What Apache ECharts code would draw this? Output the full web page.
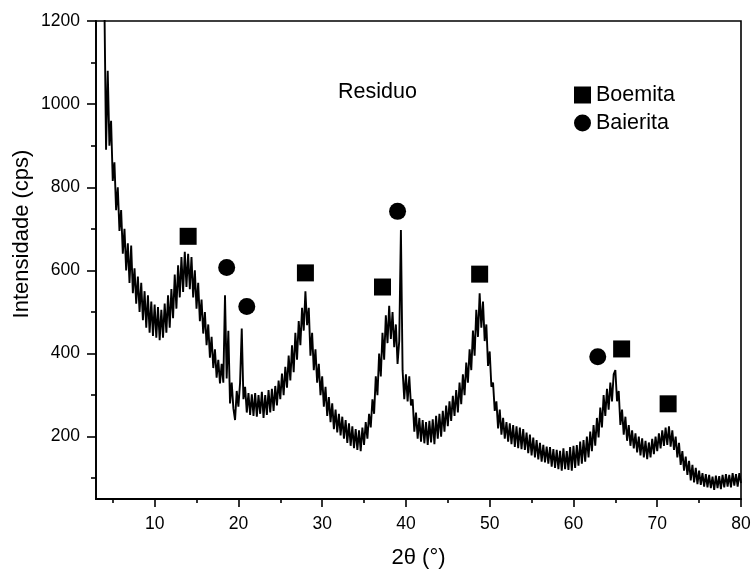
<!DOCTYPE html>
<html>
<head>
<meta charset="utf-8">
<script src="https://cdn.jsdelivr.net/npm/echarts/dist/echarts.min.js"></script>
<style>
  html, body { margin: 0; padding: 0; background: #fff; }
  #chart { width: 752px; height: 571px; }
</style>
</head>
<body>
<div id="chart"></div>
<script>
// XRD pattern "Residuo": intensity every 0.2 deg, from 4.0 to 80.0
const START = 4.0;
const STEP = 0.2;
const intensity = [
  // 4.0 - 5.8
  1250, 890, 1080, 900, 960, 815, 860, 745, 800, 695,
  // 6.0
  745, 640, 700, 600, 665, 570, 660, 545, 605, 520,
  // 8.0
  585, 500, 570, 480, 550, 462, 540, 450, 525, 442,
  // 10.0
  518, 438, 512, 432, 505, 438, 520, 450, 540, 462,
  // 12.0
  555, 485, 590, 508, 612, 535, 632, 548, 645, 560,
  // 14.0
  640, 555, 632, 535, 600, 508, 570, 478, 530, 448,
  // 16.0
  500, 420, 470, 390, 440, 365, 410, 342, 385, 328,
  // 18.0
  375, 330, 540, 340, 455, 280, 330, 268, 240, 310,
  // 20.0
  272, 330, 460, 290, 320, 258, 305, 252, 302, 250,
  // 22.0
  305, 248, 300, 255, 308, 245, 300, 252, 312, 258,
  // 24.0
  315, 262, 322, 275, 335, 290, 352, 300, 368, 318,
  // 26.0
  395, 335, 420, 355, 450, 385, 478, 420, 510, 455,
  // 28.0
  550, 468, 510, 395, 450, 360, 410, 330, 375, 300,
  // 30.0
  345, 272, 320, 250, 295, 235, 280, 218, 265, 210,
  // 32.0
  255, 203, 248, 195, 240, 185, 232, 178, 225, 172,
  // 34.0
  218, 168, 215, 165, 222, 180, 235, 195, 255, 222,
  // 36.0
  290, 255, 345, 300, 400, 345, 450, 385, 492, 425,
  // 38.0
  515, 435, 500, 415, 470, 375, 430, 697, 360, 290,
  // 40.0
  350, 285, 345, 275, 290, 212, 258, 195, 245, 188,
  // 42.0
  240, 184, 235, 180, 238, 186, 242, 182, 250, 195,
  // 44.0
  255, 200, 262, 212, 275, 225, 285, 238, 298, 250,
  // 46.0
  312, 258, 330, 278, 350, 300, 378, 330, 410, 360,
  // 48.0
  455, 395, 505, 440, 545, 462, 525, 430, 470, 370,
  // 50.0
  405, 320, 330, 262, 285, 220, 265, 205, 245, 195,
  // 52.0
  235, 188, 232, 182, 228, 175, 225, 172, 222, 170,
  // 54.0
  218, 168, 210, 160, 205, 155, 198, 150, 192, 145,
  // 56.0
  185, 140, 180, 138, 176, 135, 175, 128, 170, 125,
  // 58.0
  168, 122, 166, 118, 172, 122, 165, 120, 175, 118,
  // 60.0
  178, 125, 180, 130, 188, 135, 192, 140, 200, 150,
  // 62.0
  212, 165, 228, 178, 245, 198, 270, 222, 300, 250,
  // 64.0
  315, 265, 330, 285, 350, 360, 285, 310, 228, 265,
  // 66.0
  205, 248, 190, 228, 178, 215, 172, 208, 162, 200,
  // 68.0
  155, 196, 150, 190, 146, 186, 150, 195, 158, 200,
  // 70.0
  165, 208, 172, 215, 178, 222, 180, 225, 176, 215,
  // 72.0
  168, 200, 150, 185, 132, 165, 118, 152, 108, 142,
  // 74.0
  95, 132, 90, 125, 86, 118, 84, 112, 80, 110,
  // 76.0
  78, 108, 76, 104, 72, 106, 76, 105, 74, 108,
  // 78.0
  78, 110, 80, 108, 78, 112, 82, 110, 80, 112,
  // 80.0
  88
];

// phase markers (label positions in data units)
const boemitaX = [14.0, 28.0, 37.2, 48.8, 65.75, 71.3];
const boemitaY = [682, 594, 560, 591, 411, 279];
const baieritaX = [18.6, 21.0, 39.0, 62.9];
const baieritaY = [607, 513, 742, 392];

// axis ticks
const xLabels = [10, 20, 30, 40, 50, 60, 70, 80];
const xMinor = [5, 15, 25, 35, 45, 55, 65, 75];
const yLabels = [200, 400, 600, 800, 1000, 1200];
const yMinor = [100, 300, 500, 700, 900, 1100];

const FONT = 'Liberation Sans, Arial, Helvetica, sans-serif';

const trace = intensity.map((v, i) => [+(START + i * STEP).toFixed(1), v]);
const pairs = (xs, ys) => xs.map((x, i) => [x, ys[i]]);

const chart = echarts.init(document.getElementById('chart'), null, { renderer: 'canvas' });

const baseX = {
  type: 'value', min: 3, max: 80, gridIndex: 0, position: 'bottom',
  splitLine: { show: false }
};
const baseY = {
  type: 'value', min: 50, max: 1200, gridIndex: 0, position: 'left',
  splitLine: { show: false }
};

chart.setOption({
  animation: false,
  backgroundColor: '#fff',
  grid: {
    left: 96, right: 11, top: 21, bottom: 72,
    containLabel: false, outerBoundsMode: 'none',
    show: true, borderColor: '#000', borderWidth: 1.6, backgroundColor: 'transparent'
  },
  legend: {
    orient: 'vertical', left: 574, top: 84, padding: 0,
    itemWidth: 17, itemHeight: 17, itemGap: 6,
    selectedMode: false,
    data: ['Boemita', 'Baierita'],
    itemStyle: { opacity: 1 },
    textStyle: { color: '#000', fontSize: 21.5, fontFamily: FONT, lineHeight: 22 }
  },
  xAxis: [
    Object.assign({}, baseX, {
      name: '2θ (°)', nameLocation: 'middle', nameGap: 48,
      nameTextStyle: { color: '#000', fontSize: 22, fontFamily: FONT },
      axisLine: { show: true, lineStyle: { color: '#000', width: 1.8 } },
      axisTick: { show: true, inside: false, length: 8, customValues: xLabels, lineStyle: { color: '#000', width: 1.6 } },
      axisLabel: { show: true, margin: 16, customValues: xLabels, formatter: v => String(v), color: '#000', fontSize: 17.5, fontFamily: FONT }
    }),
    Object.assign({}, baseX, {
      axisLine: { show: false },
      axisTick: { show: true, inside: false, length: 4, customValues: xMinor, lineStyle: { color: '#000', width: 1.6 } },
      axisLabel: { show: false }
    })
  ],
  yAxis: [
    Object.assign({}, baseY, {
      axisLine: { show: true, lineStyle: { color: '#000', width: 1.8 } },
      axisTick: { show: true, inside: false, length: 9, customValues: yLabels, lineStyle: { color: '#000', width: 1.6 } },
      axisLabel: { show: true, margin: 16, customValues: yLabels, formatter: v => String(v), color: '#000', fontSize: 17.5, fontFamily: FONT }
    }),
    Object.assign({}, baseY, {
      axisLine: { show: false },
      axisTick: { show: true, inside: false, length: 5, customValues: yMinor, lineStyle: { color: '#000', width: 1.6 } },
      axisLabel: { show: false }
    })
  ],
  graphic: [
    {
      type: 'text', x: 22, y: 234, rotation: Math.PI / 2,
      style: { text: 'Intensidade (cps)', fill: '#000', fontSize: 22, fontFamily: FONT, align: 'center', verticalAlign: 'middle' }
    },
    {
      type: 'text', x: 338, y: 92,
      style: { text: 'Residuo', fill: '#000', fontSize: 21.5, fontFamily: FONT, align: 'left', verticalAlign: 'middle' }
    }
  ],
  series: [
    {
      name: 'Residuo', type: 'line', xAxisIndex: 0, yAxisIndex: 0,
      data: trace, showSymbol: false, symbol: 'none', clip: true,
      lineStyle: { color: '#000', width: 1.9, join: 'bevel' }, z: 2
    },
    {
      name: 'Boemita', type: 'scatter', xAxisIndex: 0, yAxisIndex: 0,
      data: pairs(boemitaX, boemitaY), symbol: 'rect', symbolSize: 17,
      itemStyle: { color: '#000', opacity: 1 }, z: 3
    },
    {
      name: 'Baierita', type: 'scatter', xAxisIndex: 0, yAxisIndex: 0,
      data: pairs(baieritaX, baieritaY), symbol: 'circle', symbolSize: 17,
      itemStyle: { color: '#000', opacity: 1 }, z: 3
    }
  ]
});
</script>
</body>
</html>
